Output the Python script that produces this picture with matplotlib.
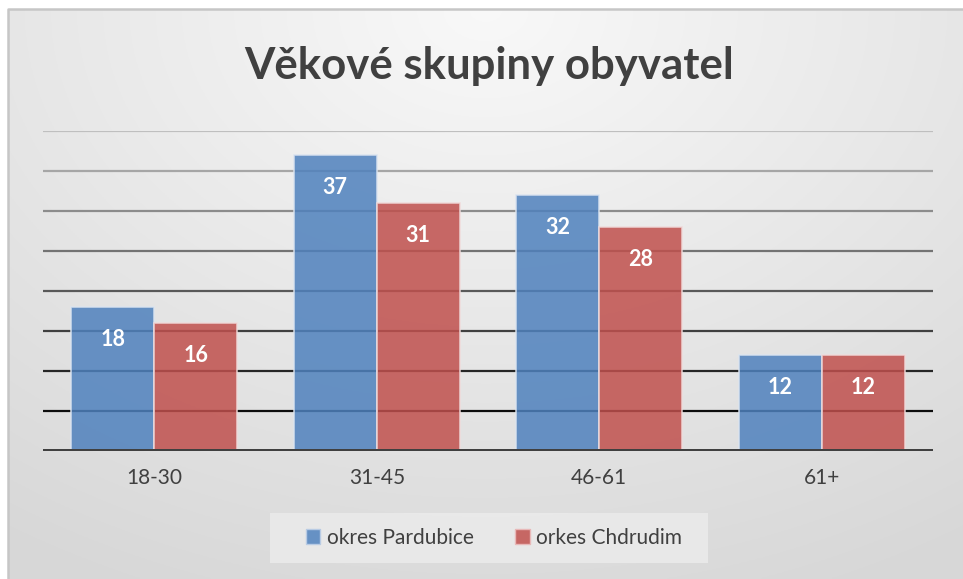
import numpy as np
import matplotlib.pyplot as plt
from matplotlib.patches import Patch, Rectangle

# data
kategorie = ['18-30', '31-45', '46-61', '61+']
pardubice = [18, 37, 32, 12]
chrudim = [16, 31, 28, 12]
nazvy = ['okres Pardubice', 'orkes Chdrudim']

plt.rcParams['font.family'] = ['Lato', 'DejaVu Sans']

fig = plt.figure(figsize=(9.63, 5.79), dpi=100)
fig.patch.set_facecolor('white')

# pozadi s radialnim prechodem (jako v Excelu)
bg = fig.add_axes([8 / 963, 0, 1 - 8 / 963, 1 - 9 / 579])
yy, xx = np.mgrid[0:1:300j, 0:1:500j]
d = np.sqrt(((xx - 0.5) * 1.1) ** 2 + (yy * 0.9) ** 2)
g = 0.975 - 0.13 * np.clip(d, 0, 1)
bg.imshow(np.dstack([g, g, g]), aspect='auto', extent=[0, 1, 1, 0])
bg.set_xlim(0, 1)
bg.set_ylim(1, 0)
bg.axis('off')
# okraj jen nahore a vlevo (zbytek je oriznuty)
bg.plot([0, 0, 1.01], [-0.05, 1, 1], transform=bg.transAxes, color='#c6c6c6',
        linewidth=1.8, clip_on=False)

# ramecek legendy
fig.patches.append(Rectangle((270 / 963, 1 - 563 / 579), 438 / 963, 50 / 579,
                             transform=fig.transFigure, facecolor='#ececec',
                             edgecolor='none', alpha=0.8, zorder=1))

ax = fig.add_axes([43 / 963, 1 - 451 / 579, 890 / 963, 320 / 579])
ax.set_facecolor('none')

x = np.arange(len(kategorie))
w = 0.373

# vodorovne mrizky - dole tmave, nahore svetle
urovne = np.arange(5, 41, 5)
for i, u in enumerate(urovne):
    t = i / (len(urovne) - 1)
    c = 0.05 + 0.70 * t
    ax.axhline(u, color=(c, c, c), linewidth=1.6, zorder=1)

b1 = ax.bar(x - w / 2, pardubice, w, color='#4F81BD', alpha=0.85,
            edgecolor='#dbe4f0', linewidth=1.2, zorder=2)
b2 = ax.bar(x + w / 2, chrudim, w, color='#C0504D', alpha=0.85,
            edgecolor='#f0dada', linewidth=1.2, zorder=2)

ax.axhline(0, color='#404040', linewidth=3.6, zorder=3)

for bars, vals in ((b1, pardubice), (b2, chrudim)):
    for r, v in zip(bars, vals):
        ax.text(r.get_x() + r.get_width() / 2, v - 4.0, str(v), ha='center',
                va='center', color='white', fontsize=15.5, fontweight='bold',
                zorder=4)

ax.set_xlim(-0.5, len(kategorie) - 0.5)
ax.set_ylim(0, 40)
ax.set_yticks([])
ax.set_xticks(x)
ax.set_xticklabels(kategorie, fontsize=15, color='#404040')
ax.tick_params(axis='x', length=0, pad=12)
for s in ax.spines.values():
    s.set_visible(False)

fig.text(0.508, 0.886, 'Věkové skupiny obyvatel', ha='center', va='center',
         fontsize=31.5, fontweight='bold', color='#404040')

handles = [Patch(facecolor='#6691C4', edgecolor='#b8cbe4', label=nazvy[0]),
           Patch(facecolor='#C66764', edgecolor='#e8b8b8', label=nazvy[1])]
leg = fig.legend(handles=handles, loc='center', bbox_to_anchor=(0.513, 0.071),
                 ncol=2, frameon=False, fontsize=15, handlelength=0.7,
                 handleheight=0.7, handletextpad=0.3, columnspacing=2.0)
for t in leg.get_texts():
    t.set_color('#404040')

fig.savefig('out.png', dpi=100)
